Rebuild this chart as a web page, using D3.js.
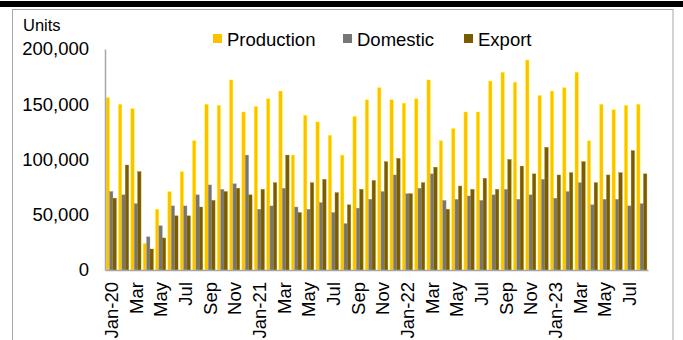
<!DOCTYPE html>
<html>
<head>
<meta charset="utf-8">
<script src="https://cdn.jsdelivr.net/npm/d3@7"></script>
<style>
  body { margin: 0; background: #fff; }
  svg { display: block; font-family: Arial, "Liberation Sans", sans-serif; }
</style>
</head>
<body>
<div id="chart"></div>
<script>
// monthly categories, Jan-20 .. Aug-23
const months = [
  "Jan-20","Feb","Mar","Apr","May","Jun","Jul","Aug","Sep","Oct","Nov","Dec",
  "Jan-21","Feb","Mar","Apr","May","Jun","Jul","Aug","Sep","Oct","Nov","Dec",
  "Jan-22","Feb","Mar","Apr","May","Jun","Jul","Aug","Sep","Oct","Nov","Dec",
  "Jan-23","Feb","Mar","Apr","May","Jun","Jul","Aug"
];
const seriesNames = ["Production", "Domestic", "Export"];

const production = [
  156000,150000,146000,24000,55000,71000,89000,117000,150000,149000,172000,143000,
  148000,155000,162000,104000,140000,134000,122000,104000,139000,154000,165000,154000,
  151000,155000,172000,117000,128000,143000,143000,171000,179000,170000,190000,158000,
  162000,165000,179000,117000,150000,145000,149000,150000
];
const domestic = [
  71000,68000,60000,30000,40000,58000,58000,68000,77000,73000,78000,104000,
  55000,58000,74000,57000,55000,61000,52000,42000,56000,64000,71000,86000,
  69000,74000,87000,63000,64000,67000,63000,68000,73000,64000,68000,82000,
  65000,71000,79000,59000,64000,64000,58000,60000
];
const exportVals = [
  65000,95000,89000,19000,29000,49000,49000,57000,63000,71000,74000,68000,
  73000,79000,104000,52000,79000,82000,70000,59000,73000,81000,98000,101000,
  69000,79000,93000,55000,76000,73000,83000,73000,100000,94000,87000,111000,
  86000,88000,98000,79000,86000,88000,108000,87000
];
const yTicks = [0, 50000, 100000, 150000, 200000];
const colors = ["#FFC000", "#767676", "#7A5C00"];

const W = 683, H = 340;
const svg = d3.select("#chart").append("svg").attr("width", W).attr("height", H);

// thick rule of the page above the figure + figure frame
svg.append("rect").attr("x", 0).attr("y", 1).attr("width", W).attr("height", 6).attr("fill", "#000");
svg.append("rect").attr("x", 12.5).attr("y", 9.5).attr("width", 660.5).attr("height", 345)
  .attr("fill", "none").attr("stroke", "#a6a6a6").attr("stroke-width", 1);

const x0 = d3.scaleBand().domain(d3.range(months.length)).range([105, 648])
  .paddingInner(0.17).paddingOuter(0.09);
const x1 = d3.scaleBand().domain(seriesNames).range([0, x0.bandwidth()]);
const y = d3.scaleLinear().domain([0, 200000]).range([270, 49]);

const rows = months.map((m, i) => ({
  i, vals: [production[i], domestic[i], exportVals[i]]
}));

svg.append("g").selectAll("g").data(rows).join("g")
  .attr("transform", d => `translate(${x0(d.i)},0)`)
  .selectAll("rect").data(d => d.vals.map((v, k) => ({ v, k })))
  .join("rect")
  .attr("x", d => x1(seriesNames[d.k]))
  .attr("width", x1.bandwidth())
  .attr("y", d => y(d.v))
  .attr("height", d => y(0) - y(d.v))
  .attr("fill", d => colors[d.k])
  .attr("stroke", d => d3.color(colors[d.k]).brighter(0.8))
  .attr("stroke-width", 0.4);

// y axis
const yAxis = svg.append("g").attr("transform", "translate(105,0)")
  .call(d3.axisLeft(y).tickValues(yTicks).tickFormat(d3.format(",")).tickSize(0).tickPadding(16));
yAxis.select(".domain").attr("stroke", "#a6a6a6").attr("stroke-width", 1.5);
yAxis.selectAll("text").attr("font-size", 18.5).attr("fill", "#000")
  .attr("font-family", "Arial, 'Liberation Sans', sans-serif");

// x axis
const xAxis = svg.append("g").attr("transform", "translate(0,270)")
  .call(d3.axisBottom(x0).tickValues(d3.range(0, months.length, 2))
    .tickFormat(i => months[i]).tickSize(0).tickPadding(0));
xAxis.select(".domain").attr("stroke", "#a6a6a6").attr("stroke-width", 1.5);
xAxis.selectAll("text")
  .attr("font-size", 18.5).attr("fill", "#000")
  .attr("font-family", "Arial, 'Liberation Sans', sans-serif")
  .attr("text-anchor", "end")
  .attr("transform", "rotate(-90)")
  .attr("x", -12).attr("y", 0).attr("dy", "0.36em");

// units label
svg.append("text").attr("x", 23).attr("y", 31).attr("font-size", 16.5).text("Units");

// legend
const legX = [213, 343, 464];
const leg = svg.append("g").selectAll("g").data(seriesNames).join("g")
  .attr("transform", (d, i) => `translate(${legX[i]},0)`);
leg.append("rect").attr("x", 0).attr("y", 34).attr("width", 9).attr("height", 9)
  .attr("fill", (d, i) => colors[i]);
leg.append("text").attr("x", 14).attr("y", 46).attr("font-size", 18.5).text(d => d);
</script>
</body>
</html>
